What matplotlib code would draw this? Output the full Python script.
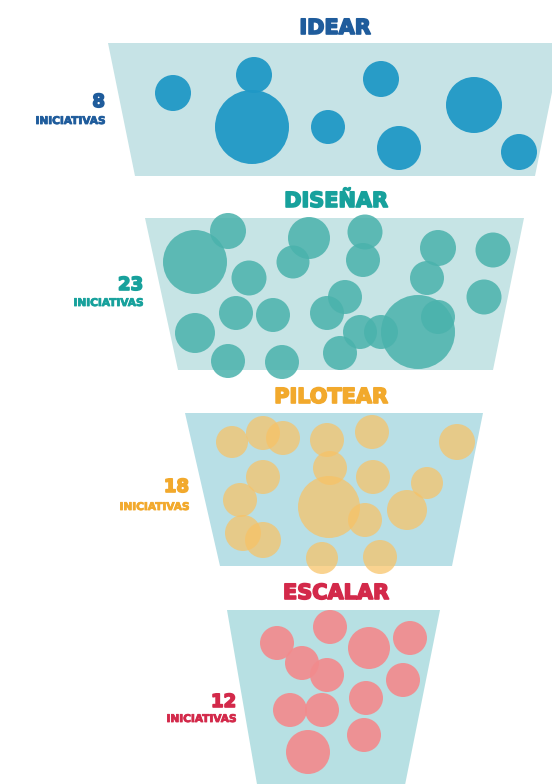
import matplotlib
matplotlib.use("Agg")
import matplotlib.pyplot as plt
import matplotlib.patheffects as pe
from matplotlib.patches import Circle, Polygon

# ---------------- data ----------------
stages = ["IDEAR", "DISEÑAR", "PILOTEAR", "ESCALAR"]
counts = [8, 23, 18, 12]
count_caption = "INICIATIVAS"

# bubbles per stage: x, y (pixel space of the infographic), radius
idear_x = [173, 254, 252, 328, 381, 399, 474, 519]
idear_y = [93, 75, 127, 127, 79, 148, 105, 152]
idear_r = [18, 18, 37, 17, 18, 22, 28, 18]

disenar_x = [195, 228, 249, 236, 273, 195, 228, 282, 309, 293, 327, 345, 340,
             365, 363, 438, 427, 493, 484, 418, 438, 381, 360]
disenar_y = [262, 231, 278, 313, 315, 333, 361, 362, 238, 262, 313, 297, 353,
             232, 260, 248, 278, 250, 297, 332, 317, 332, 332]
disenar_r = [32, 18, 17.5, 17, 17, 20, 17, 17, 21, 16.5, 17, 17, 17,
             17.5, 17, 18, 17, 17.5, 17.5, 37, 17, 17, 17]

pilotear_x = [232, 263, 283, 263, 240, 243, 263, 322, 327, 330, 329,
              372, 457, 373, 427, 407, 365, 380]
pilotear_y = [442, 433, 438, 477, 500, 533, 540, 558, 440, 468, 507,
              432, 442, 477, 483, 510, 520, 557]
pilotear_r = [16, 17, 17, 17, 17, 18, 18, 16, 17, 17, 31,
              17, 18, 17, 16, 20, 17, 17]

escalar_x = [277, 302, 327, 330, 290, 322, 308, 369, 410, 403, 366, 364]
escalar_y = [643, 663, 675, 627, 710, 710, 752, 648, 638, 680, 698, 735]
escalar_r = [17, 17, 17, 17, 17, 17, 22, 21, 17, 17, 17, 17]

bubbles = [
    (idear_x, idear_y, idear_r),
    (disenar_x, disenar_y, disenar_r),
    (pilotear_x, pilotear_y, pilotear_r),
    (escalar_x, escalar_y, escalar_r),
]

# ---------------- layout / style ----------------
W, H = 552, 784
# trapezoids: (top_y, bottom_y, top_left, top_right, bottom_left, bottom_right)
trapezoids = [
    (43, 176, 108, 562, 135, 535),
    (218, 370, 145, 524, 178, 493),
    (413, 566, 185, 483, 220, 452),
    (610, 790, 227, 440, 258, 404),
]
trap_colors = ["#c6e3e6", "#c6e4e5", "#b8dfe6", "#b7e0e3"]
title_pos = [(335, 28), (336, 201), (331, 397), (336, 593)]
label_pos = [(105, 102, 121), (143, 285, 303), (189, 487, 507), (236, 702, 719)]
text_colors = ["#1f5c9c", "#17a19c", "#f2a92c", "#d3294a"]
bubble_colors = ["#1f98c6", "#4ab2ac", "#f8c266", "#f28b8d"]
bubble_alpha = [0.95, 0.85, 0.72, 0.92]

fig = plt.figure(figsize=(W / 100, H / 100), dpi=100)
ax = fig.add_axes([0, 0, 1, 1])
ax.set_xlim(0, W)
ax.set_ylim(H, 0)
ax.axis("off")


def heavy(color, w):
    return [pe.withStroke(linewidth=w, foreground=color)]


for i, name in enumerate(stages):
    ty, by, tl, tr, bl, br = trapezoids[i]
    ax.add_patch(Polygon([(tl, ty), (tr, ty), (br, by), (bl, by)],
                         closed=True, facecolor=trap_colors[i],
                         edgecolor="none", zorder=1))
    xs, ys, rs = bubbles[i]
    for x, y, r in zip(xs, ys, rs):
        ax.add_patch(Circle((x, y), r, facecolor=bubble_colors[i],
                            alpha=bubble_alpha[i], edgecolor="none", zorder=2))
    tx, tyy = title_pos[i]
    ax.text(tx, tyy, name, ha="center", va="center", fontsize=15,
            fontweight="heavy", color=text_colors[i], family="DejaVu Sans",
            path_effects=heavy(text_colors[i], 1.2), zorder=3)
    lx, ny, cy = label_pos[i]
    ax.text(lx, ny, str(counts[i]), ha="right", va="center", fontsize=13,
            fontweight="heavy", color=text_colors[i], family="DejaVu Sans",
            path_effects=heavy(text_colors[i], 1.2), zorder=3)
    ax.text(lx, cy, count_caption, ha="right", va="center", fontsize=7.6,
            fontweight="heavy", color=text_colors[i], family="DejaVu Sans",
            path_effects=heavy(text_colors[i], 0.6), zorder=3)

fig.savefig("out.png", dpi=100, facecolor="white")
